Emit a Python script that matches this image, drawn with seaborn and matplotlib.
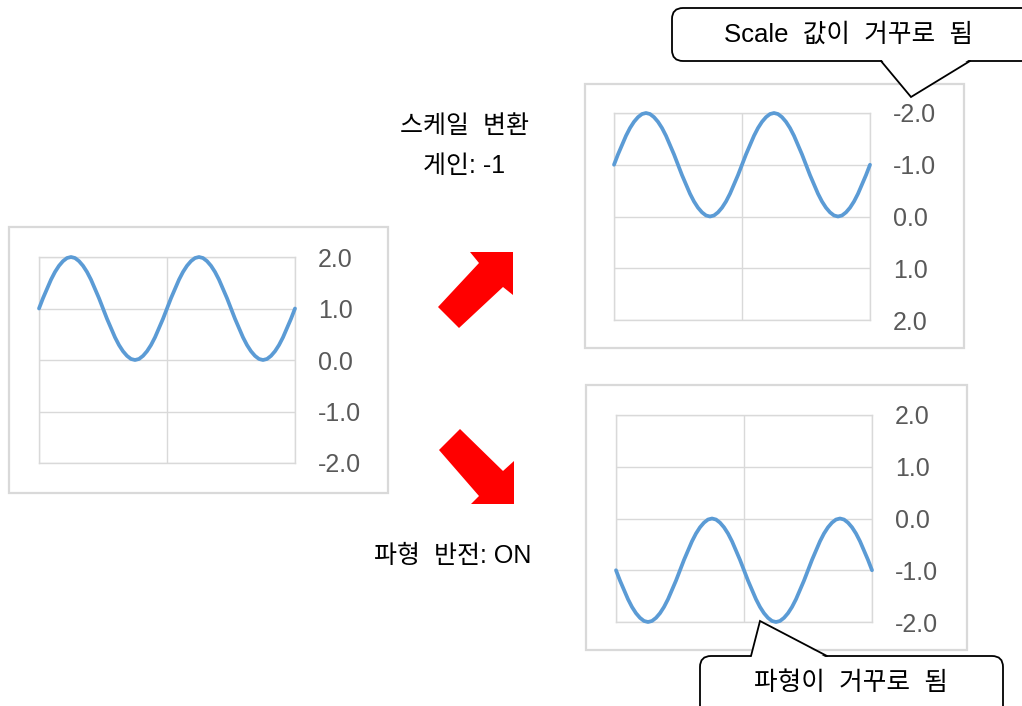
import numpy as np
import pandas as pd
import matplotlib
matplotlib.use("Agg")
import matplotlib.pyplot as plt
import seaborn as sns
from matplotlib.patches import Rectangle, Polygon, FancyBboxPatch

# ---------------- data ----------------
phase_steps = list(range(65))  # two periods, 32 samples per period
original = [1.00, 1.20, 1.38, 1.56, 1.71, 1.83, 1.92, 1.98,
            2.00, 1.98, 1.92, 1.83, 1.71, 1.56, 1.38, 1.20,
            1.00, 0.80, 0.62, 0.44, 0.29, 0.17, 0.08, 0.02,
            0.00, 0.02, 0.08, 0.17, 0.29, 0.44, 0.62, 0.80,
            1.00, 1.20, 1.38, 1.56, 1.71, 1.83, 1.92, 1.98,
            2.00, 1.98, 1.92, 1.83, 1.71, 1.56, 1.38, 1.20,
            1.00, 0.80, 0.62, 0.44, 0.29, 0.17, 0.08, 0.02,
            0.00, 0.02, 0.08, 0.17, 0.29, 0.44, 0.62, 0.80,
            1.00]
inverted = [-1.00, -1.20, -1.38, -1.56, -1.71, -1.83, -1.92, -1.98,
            -2.00, -1.98, -1.92, -1.83, -1.71, -1.56, -1.38, -1.20,
            -1.00, -0.80, -0.62, -0.44, -0.29, -0.17, -0.08, -0.02,
            0.00, -0.02, -0.08, -0.17, -0.29, -0.44, -0.62, -0.80,
            -1.00, -1.20, -1.38, -1.56, -1.71, -1.83, -1.92, -1.98,
            -2.00, -1.98, -1.92, -1.83, -1.71, -1.56, -1.38, -1.20,
            -1.00, -0.80, -0.62, -0.44, -0.29, -0.17, -0.08, -0.02,
            0.00, -0.02, -0.08, -0.17, -0.29, -0.44, -0.62, -0.80,
            -1.00]
y_ticks = [-2.0, -1.0, 0.0, 1.0, 2.0]
y_tick_labels = ["-2.0", "-1.0", "0.0", "1.0", "2.0"]
x_grid = [0, 32, 64]

label_scale_1 = "스케일  변환"
label_scale_2 = "게인: -1"
label_invert = "파형  반전: ON"
callout_scale = "Scale  값이  거꾸로  됨"
callout_wave = "파형이  거꾸로  됨"

# ---------------- style ----------------
sns.set_theme(style="white")
plt.rcParams['font.family'] = ['Liberation Sans', 'Noto Sans CJK KR', 'DejaVu Sans']

W, H = 1022, 706
fig = plt.figure(figsize=(W / 100, H / 100), dpi=100)

LINE_C = "#5B9BD5"
GRID_C = "#d9d9d9"
TICK_C = "#595959"


def rect(x0, y0, x1, y1):
    return [x0 / W, 1 - y1 / H, (x1 - x0) / W, (y1 - y0) / H]


def make_chart(r, values, inverted_axis):
    ax = fig.add_axes(rect(*r))
    df = pd.DataFrame({"x": phase_steps, "y": values})
    sns.lineplot(data=df, x="x", y="y", ax=ax, color=LINE_C, lw=2.7,
                 zorder=3, clip_on=False)
    ax.set_xlim(0, 64)
    if inverted_axis:
        ax.set_ylim(2, -2)
    else:
        ax.set_ylim(-2, 2)
    ax.set_yticks(y_ticks)
    ax.set_yticklabels(y_tick_labels)
    ax.set_xticks(x_grid)
    ax.set_xticklabels([])
    ax.yaxis.tick_right()
    ax.tick_params(axis="y", length=0, pad=16.5, labelsize=18, labelcolor=TICK_C)
    ax.tick_params(axis="x", length=0)
    ax.grid(True, color=GRID_C, lw=1.0)
    ax.set_xlabel("")
    ax.set_ylabel("")
    for s in ax.spines.values():
        s.set_color(GRID_C)
        s.set_linewidth(1.0)
    ax.set_facecolor("white")
    return ax


make_chart((39, 257, 295, 463), original, False)
make_chart((614, 113, 870, 320), inverted, True)
make_chart((616, 415, 872, 622), inverted, False)

# ---------------- overlay in pixel coordinates ----------------
ov = fig.add_axes([0, 0, 1, 1], zorder=10)
ov.set_xlim(0, W)
ov.set_ylim(H, 0)
ov.axis("off")
ov.patch.set_alpha(0)

# outer frames
for (x0, y0, x1, y1) in [(9, 227, 388, 493), (585, 84, 964, 348), (586, 385, 967, 650)]:
    ov.add_patch(Rectangle((x0, y0), x1 - x0, y1 - y0, fill=False,
                           ec=GRID_C, lw=1.6, zorder=1))

# red block arrows
arrow_up = [(438, 307), (479, 263), (470, 252), (513, 252), (513, 295),
            (503, 287), (459, 328)]
arrow_down = [(460, 429), (503, 471), (514, 461), (514, 504), (471, 504),
              (479, 496), (439, 450)]
for pts in (arrow_up, arrow_down):
    ov.add_patch(Polygon(pts, closed=True, fc="#FF0000", ec="none", zorder=2))


def callout(x0, y0, w, h, base1, tip, base2, text, tx, ty):
    ov.add_patch(FancyBboxPatch((x0, y0), w, h,
                                boxstyle="round,pad=0,rounding_size=11",
                                fc="white", ec="black", lw=1.3, zorder=5))
    by = base1[1]
    inward = 2 if by == y0 + h else -2
    ov.add_patch(Polygon([(base1[0], by - inward), tip, (base2[0], by - inward)],
                         closed=True, fc="white", ec="none", zorder=6))
    ov.plot([base1[0], tip[0], base2[0]], [base1[1], tip[1], base2[1]],
            color="black", lw=1.3, zorder=7, solid_joinstyle="miter")
    ov.text(tx, ty, text, ha="center", va="center", fontsize=18.5,
            color="black", zorder=8)


callout(672, 8, 400, 53, (881, 61), (911, 97), (970, 61),
        callout_scale, 849, 35)
callout(700, 656, 303, 80, (751, 656), (760, 621), (827, 656),
        callout_wave, 851, 683)

ov.text(464, 126, label_scale_1, ha="center", va="center", fontsize=18,
        color="black")
ov.text(464, 166, label_scale_2, ha="center", va="center", fontsize=18,
        color="black")
ov.text(453, 556, label_invert, ha="center", va="center", fontsize=18,
        color="black")

fig.savefig("out.png", dpi=100)
